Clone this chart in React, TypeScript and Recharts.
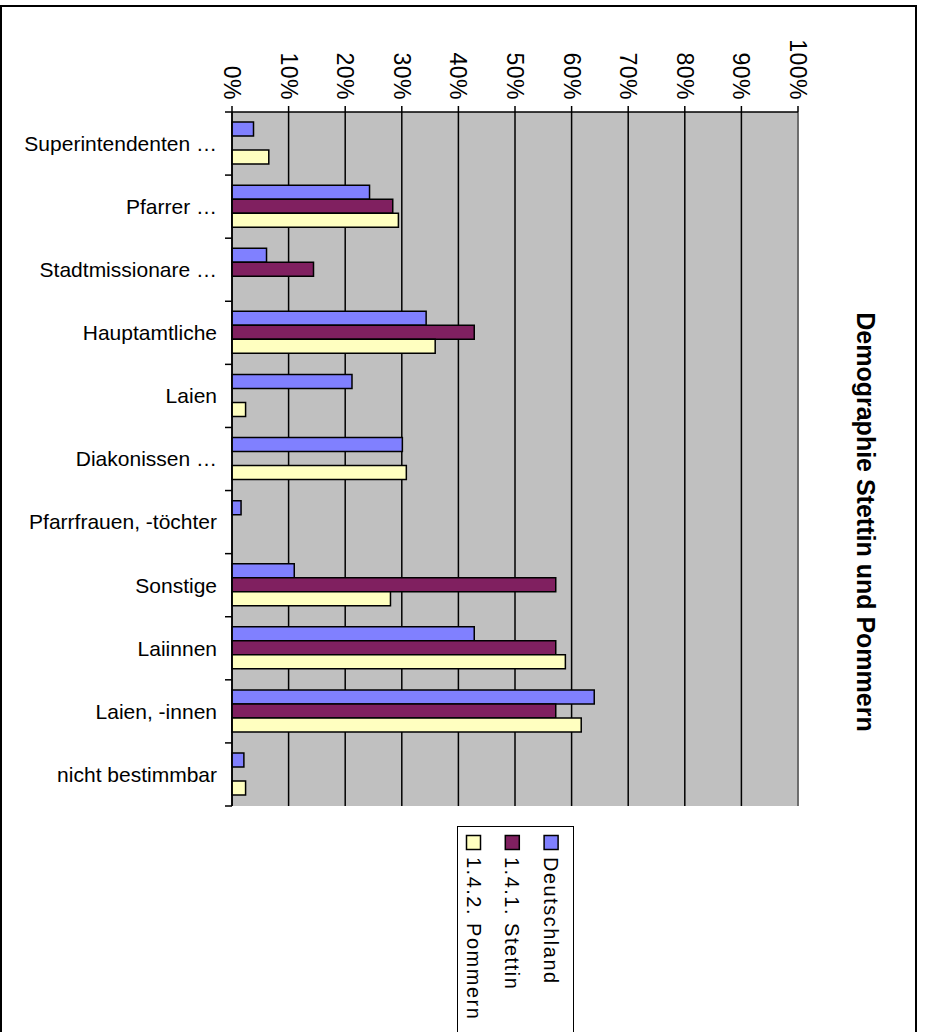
import React from "react";
import {
  BarChart,
  Bar,
  XAxis,
  YAxis,
  CartesianGrid,
  Legend,
  ReferenceLine,
} from "recharts";

const categories = [
  "Superintendenten …",
  "Pfarrer …",
  "Stadtmissionare …",
  "Hauptamtliche",
  "Laien",
  "Diakonissen …",
  "Pfarrfrauen, -töchter",
  "Sonstige",
  "Laiinnen",
  "Laien, -innen",
  "nicht bestimmbar",
];

// shares in percent
const deutschland = [3.8, 24.3, 6.1, 34.3, 21.2, 30.1, 1.6, 11.0, 42.8, 64.0, 2.1];
const stettin = [0, 28.4, 14.4, 42.8, 0, 0, 0, 57.2, 57.2, 57.2, 0];
const pommern = [6.5, 29.4, 0, 35.9, 2.4, 30.8, 0, 28.0, 58.9, 61.7, 2.4];

const percentTicks = [0, 10, 20, 30, 40, 50, 60, 70, 80, 90, 100];

const series = [
  { key: "de", name: "Deutschland", color: "#8080FF" },
  { key: "st", name: "1.4.1. Stettin", color: "#802060" },
  { key: "po", name: "1.4.2. Pommern", color: "#FFFFC0" },
];

const data = categories.map((name, i) => ({
  name,
  de: deutschland[i],
  st: stettin[i],
  po: pommern[i],
}));

const FONT = "'Liberation Sans', Arial, Helvetica, sans-serif";

function PercentTick(props: any) {
  const { x, y, payload } = props;
  return (
    <text
      x={x}
      y={y}
      transform={`rotate(90 ${x} ${y})`}
      textAnchor="end"
      dy="0.35em"
      fontSize={23}
      letterSpacing={0.5}
      fontFamily={FONT}
      fill="#000"
    >
      {payload.value}%
    </text>
  );
}

function CategoryTick(props: any) {
  const { x, y, payload, index, visibleTicksCount } = props;
  const half = payload?.offset ?? 0;
  const axisX = x + 15;
  const isLast = index === visibleTicksCount - 1;
  return (
    <g>
      <line x1={axisX - 7} x2={axisX} y1={y - half} y2={y - half} stroke="#000" strokeWidth={1.5} />
      {isLast && (
        <line x1={axisX - 7} x2={axisX} y1={y + half} y2={y + half} stroke="#000" strokeWidth={1.5} />
      )}
      <text x={x} y={y} textAnchor="end" dy="0.35em" fontSize={21} fontFamily={FONT} fill="#000">
        {payload.value}
      </text>
    </g>
  );
}

function SeriesLegend() {
  const cols = [...series].reverse();
  return (
    <div
      style={{
        width: 117,
        height: 240,
        border: "1.5px solid #000",
        background: "#fff",
        boxSizing: "border-box",
      }}
    >
      <svg width={114} height={237} style={{ display: "block" }}>
        {cols.map((s, i) => {
          const cx = 15.5 + i * 38.8;
          return (
            <g key={s.key}>
              <rect x={cx - 7} y={8.5} width={14} height={14} fill={s.color} stroke="#000" strokeWidth={1.5} />
              <text
                x={cx}
                y={30}
                transform={`rotate(90 ${cx} 30)`}
                textAnchor="start"
                dy="0.35em"
                fontSize={20}
                letterSpacing={1.5}
                fontFamily={FONT}
                fill="#000"
              >
                {s.name}
              </text>
            </g>
          );
        })}
      </svg>
    </div>
  );
}

export default function App() {
  return (
    <div
      style={{
        position: "absolute",
        left: 0,
        top: 0,
        width: 927,
        height: 1032,
        overflow: "hidden",
        background: "#fff",
      }}
    >
      <div
        style={{
          position: "absolute",
          left: 0,
          top: 5,
          width: 917,
          height: 1100,
          border: "2px solid #000",
          boxSizing: "border-box",
        }}
      />
      <BarChart
        width={927}
        height={1032}
        data={data}
        layout="vertical"
        barCategoryGap="16%"
        barGap={0}
        margin={{ top: 12, right: 129, bottom: 226, left: 12 }}
        style={{ position: "absolute", left: 0, top: 0 }}
      >
        <CartesianGrid
          horizontal={false}
          stroke="#000"
          strokeWidth={1.5}
          fill="#C0C0C0"
          fillOpacity={1}
        />
        <XAxis
          type="number"
          orientation="top"
          domain={[0, 100]}
          ticks={percentTicks}
          interval={0}
          height={100}
          tickSize={6}
          tickMargin={6}
          tick={<PercentTick />}
          axisLine={{ stroke: "#000", strokeWidth: 1.5 }}
          tickLine={{ stroke: "#000", strokeWidth: 1.5 }}
        />
        <XAxis
          xAxisId="edge"
          type="number"
          orientation="bottom"
          domain={[0, 100]}
          height={0}
          tick={false}
          tickLine={false}
          axisLine={{ stroke: "#808080", strokeWidth: 1.5 }}
        />
        <YAxis
          type="category"
          dataKey="name"
          width={220}
          tickSize={7}
          tickMargin={8}
          interval={0}
          tickLine={false}
          tick={<CategoryTick />}
          axisLine={{ stroke: "#000", strokeWidth: 1.5 }}
        />
        <ReferenceLine x={100} stroke="#808080" strokeWidth={1.5} />
        {series.map((s) => (
          <Bar
            key={s.key}
            dataKey={s.key}
            name={s.name}
            fill={s.color}
            stroke="#000"
            strokeWidth={1.5}
            isAnimationActive={false}
          />
        ))}
        <Legend
          layout="horizontal"
          align="center"
          verticalAlign="middle"
          content={<SeriesLegend />}
          wrapperStyle={{ position: "absolute", left: 457, top: 826, width: 117, height: 240 }}
        />
      </BarChart>
      <svg
        width={927}
        height={1032}
        style={{ position: "absolute", left: 0, top: 0, pointerEvents: "none" }}
      >
        <text
          x={866}
          y={522}
          transform="rotate(90 866 522)"
          textAnchor="middle"
          dy="0.35em"
          fontSize={25}
          fontWeight="bold"
          fontFamily={FONT}
          fill="#000"
        >
          Demographie Stettin und Pommern
        </text>
      </svg>
    </div>
  );
}
